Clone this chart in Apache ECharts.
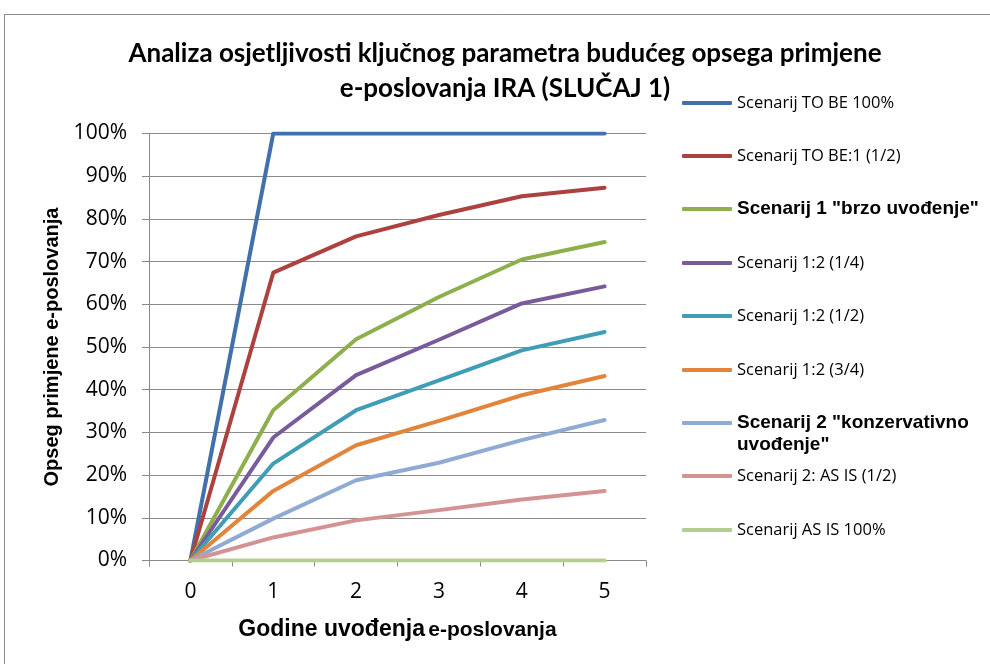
<!DOCTYPE html>
<html>
<head>
<meta charset="utf-8">
<script src="https://cdn.jsdelivr.net/npm/echarts@6/dist/echarts.min.js"></script>
<style>
  html, body { margin: 0; padding: 0; background: #fff; }
  #chart { width: 990px; height: 664px; }
</style>
</head>
<body>
<div id="chart"></div>
<script>
// Years since the start of e-business adoption
const years = ['0', '1', '2', '3', '4', '5'];

// Share of e-business adoption per scenario (fraction of 1)
const toBe100 = [0, 1, 1, 1, 1, 1];
const toBeHalf = [0, 0.674, 0.759, 0.809, 0.853, 0.873];
const scenario1 = [0, 0.352, 0.518, 0.617, 0.705, 0.746];
const s12Quarter = [0, 0.288, 0.434, 0.517, 0.602, 0.642];
const s12Half = [0, 0.227, 0.352, 0.422, 0.492, 0.535];
const s12ThreeQuarter = [0, 0.163, 0.270, 0.327, 0.387, 0.432];
const scenario2 = [0, 0.098, 0.188, 0.229, 0.282, 0.329];
const s2AsIsHalf = [0, 0.054, 0.094, 0.118, 0.143, 0.163];
const asIs100 = [0, 0, 0, 0, 0, 0];

const seriesNames = [
  'Scenarij TO BE 100%',
  'Scenarij TO BE:1 (1/2)',
  'Scenarij 1 "brzo uvođenje"',
  'Scenarij 1:2 (1/4)',
  'Scenarij 1:2 (1/2)',
  'Scenarij 1:2 (3/4)',
  'Scenarij 2 "konzervativno uvođenje"',
  'Scenarij 2: AS IS (1/2)',
  'Scenarij AS IS 100%'
];
const seriesData = [toBe100, toBeHalf, scenario1, s12Quarter, s12Half, s12ThreeQuarter, scenario2, s2AsIsHalf, asIs100];
const seriesColors = ['#4270AA', '#AC4140', '#8DAF4C', '#775B9A', '#3F9DB6', '#E2853C', '#90ABD3', '#D49293', '#B4CE92'];
const boldNames = ['Scenarij 1 "brzo uvođenje"', 'Scenarij 2 "konzervativno uvođenje"'];

const chart = echarts.init(document.getElementById('chart'));

const axisGray = '#8a8a8a';
const tickFont = 'Open Sans';
const boldFont = 'Liberation Sans';

// one legend block per scenario, stacked down the right side
const legendCenters = [103, 156, 209, 263, 316, 370, 423, 476, 530];
const legends = seriesNames.map((name, i) => {
  const bold = boldNames.includes(name);
  const wrapped = name === 'Scenarij 2 "konzervativno uvođenje"';
  const lh = bold ? 22 : 20;
  const h = wrapped ? lh * 3 : lh;
  return {
    data: [name],
    orient: 'vertical',
    left: 682,
    top: legendCenters[i] - h / 2,
    padding: 0,
    itemWidth: 50,
    itemHeight: 4,
    icon: 'roundRect',
    selectedMode: false,
    formatter: wrapped ? () => '\nScenarij 2 "konzervativno\nuvođenje"' : undefined,
    textStyle: {
      color: '#000',
      fontFamily: bold ? boldFont : tickFont,
      fontWeight: bold ? 'bold' : 'normal',
      fontSize: bold ? 19 : 16.5,
      lineHeight: lh
    }
  };
});

chart.setOption({
  animation: false,
  backgroundColor: '#fff',
  title: {
    text: 'Analiza osjetljivosti ključnog parametra budućeg opsega primjene\ne-poslovanja IRA (SLUČAJ 1)',
    left: 500,
    top: 31,
    textAlign: 'center',
    textStyle: {
      fontFamily: 'Lato',
      fontWeight: 'bold',
      fontSize: 26,
      lineHeight: 35,
      color: '#000'
    }
  },
  graphic: [{
    type: 'rect',
    shape: { x: 4.5, y: 14.5, width: 1000, height: 700 },
    style: { fill: 'none', stroke: '#8a8a8a', lineWidth: 1 },
    silent: true,
    z: -1
  }],
  legend: legends,
  grid: { left: 149, right: 344, top: 133.5, bottom: 103.5 },
  xAxis: {
    type: 'category',
    data: years,
    boundaryGap: true,
    name: '{a|Godine uvođenja} {b|e-poslovanja}',
    nameLocation: 'middle',
    nameGap: 58,
    nameTextStyle: {
      rich: {
        a: { fontFamily: boldFont, fontWeight: 'bold', fontSize: 23, color: '#000' },
        b: { fontFamily: boldFont, fontWeight: 'bold', fontSize: 21, color: '#000' }
      }
    },
    axisLine: { show: true, lineStyle: { color: axisGray, width: 1 } },
    axisTick: { show: true, length: 6, lineStyle: { color: axisGray } },
    axisLabel: { margin: 21, fontFamily: tickFont, fontSize: 21, color: '#000' },
    splitLine: { show: false }
  },
  yAxis: {
    type: 'value',
    min: 0,
    max: 1,
    interval: 0.1,
    name: 'Opseg primjene e-poslovanja',
    nameLocation: 'middle',
    nameGap: 86,
    nameTextStyle: { fontFamily: boldFont, fontWeight: 'bold', fontSize: 20, color: '#000' },
    axisLine: { show: true, lineStyle: { color: axisGray, width: 1 } },
    axisTick: { show: true, length: 7, lineStyle: { color: axisGray } },
    axisLabel: {
      margin: 22,
      fontFamily: tickFont,
      fontSize: 21,
      color: '#000',
      formatter: v => Math.round(v * 100) + '%'
    },
    splitLine: { show: true, lineStyle: { color: axisGray, width: 1 } }
  },
  series: seriesNames.map((name, i) => ({
    name: name,
    type: 'line',
    data: seriesData[i],
    symbol: 'none',
    color: seriesColors[i],
    lineStyle: { width: 4, color: seriesColors[i], cap: 'round', join: 'round' }
  }))
});
</script>
</body>
</html>
